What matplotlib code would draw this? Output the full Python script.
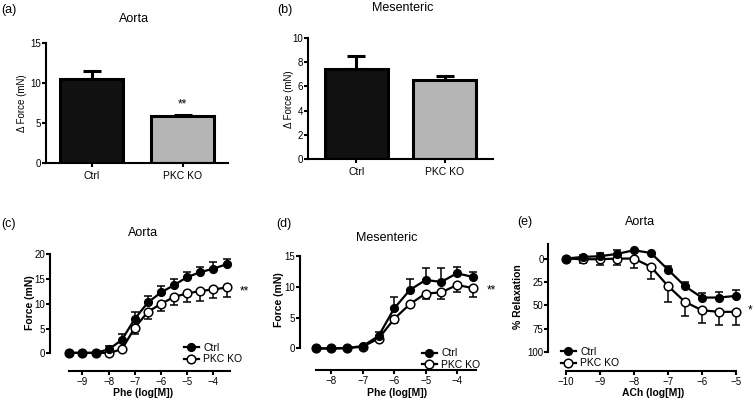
import matplotlib
matplotlib.use("Agg")
import matplotlib.pyplot as plt
import numpy as np

plt.rcParams['font.family'] = ['Liberation Sans', 'DejaVu Sans']

# ---------------- data ----------------
bar_groups = ["Ctrl", "PKC KO"]
aorta_bar = [10.45, 5.85]
aorta_bar_sem = [1.05, 0.2]
mes_bar = [7.4, 6.5]
mes_bar_sem = [1.08, 0.36]

# (c) Aorta Phe
phe_c = [-9.5, -9, -8.5, -8, -7.5, -7, -6.5, -6, -5.5, -5, -4.5, -4, -3.5]
c_ctrl = [0.1, 0.1, 0.1, 0.8, 2.7, 7.0, 10.3, 12.3, 13.8, 15.4, 16.4, 17.1, 18.0]
c_ctrl_sem = [0.0, 0.0, 0.0, 0.7, 1.3, 1.4, 1.2, 1.3, 1.2, 1.1, 1.1, 1.3, 1.1]
c_ko = [0.1, 0.1, 0.1, 0.1, 0.8, 5.2, 8.4, 10.0, 11.4, 12.1, 12.6, 12.9, 13.3]
c_ko_sem = [0.0, 0.0, 0.0, 0.0, 0.0, 1.2, 1.5, 1.4, 1.6, 1.8, 2.0, 1.8, 1.9]

# (d) Mesenteric Phe
phe_d = [-8.5, -8, -7.5, -7, -6.5, -6, -5.5, -5, -4.5, -4, -3.5]
d_ctrl = [0.0, 0.0, 0.05, 0.4, 2.0, 6.5, 9.5, 11.1, 10.8, 12.2, 11.6]
d_ctrl_sem = [0.0, 0.0, 0.0, 0.0, 0.7, 1.9, 1.7, 1.9, 2.2, 1.0, 0.8]
d_ko = [0.0, 0.0, 0.05, 0.3, 1.6, 4.8, 7.2, 8.9, 9.1, 10.3, 9.8]
d_ko_sem = [0.0, 0.0, 0.0, 0.0, 0.0, 0.7, 0.0, 0.8, 1.0, 1.2, 1.4]

# (e) Aorta ACh
ach_e = [-10, -9.5, -9, -8.5, -8, -7.5, -7, -6.5, -6, -5.5, -5]
e_ctrl = [0.0, -1.8, -2.5, -5.0, -8.9, -6.0, 11.8, 29.6, 41.8, 41.8, 40.0]
e_ctrl_sem = [0.0, 1.8, 3.9, 3.9, 0.0, 0.0, 3.6, 4.6, 5.0, 6.1, 6.8]
e_ko = [0.0, 0.7, 0.7, 0.0, 0.0, 8.9, 29.3, 46.4, 55.4, 57.1, 57.1]
e_ko_sem = [0.0, 3.9, 5.7, 6.4, 9.6, 12.5, 17.7, 15.4, 14.2, 14.3, 13.6]

W, H = 755, 403
fig = plt.figure(figsize=(W / 100, H / 100), dpi=100)


def add_ax(l, t, r, b):
    return fig.add_axes([l / W, 1 - b / H, (r - l) / W, (b - t) / H])


def ftext(x, y, s, **kw):
    kw.setdefault('ha', 'center')
    kw.setdefault('va', 'center')
    fig.text(x / W, 1 - y / H, s, **kw)


LW = 1.5
TICKFS = 7


def style_common(ax):
    for s in ['top', 'right']:
        ax.spines[s].set_visible(False)
    for s in ['left', 'bottom']:
        ax.spines[s].set_linewidth(LW)
    ax.tick_params(width=LW, length=2.6, labelsize=TICKFS, pad=0.8, color='black')
    ax.tick_params(axis='x', pad=2)


# ---------------- bar panels ----------------
def bar_panel(ax, vals, sems, ylim, yticks, width):
    x = np.arange(len(bar_groups))
    ax.bar(x, vals, width=width, color=['#111111', '#b5b5b5'], edgecolor='black',
           linewidth=2.2, zorder=2)
    ax.errorbar(x, vals, yerr=[np.zeros(len(vals)), sems], fmt='none', ecolor='black',
                elinewidth=2.2, capsize=6.5, capthick=2.2, zorder=1)
    ax.set_ylim(*ylim)
    ax.set_yticks(yticks)
    ax.set_xticks(x)
    ax.set_xticklabels(bar_groups)
    style_common(ax)
    ax.tick_params(axis='x', labelsize=7.5, pad=3)


axa = add_ax(46, 43, 228, 163)
bar_panel(axa, aorta_bar, aorta_bar_sem, (0, 15), [0, 5, 10, 15], 0.69)
axa.set_xlim(-0.5, 1.5)

axb = add_ax(308, 38, 493, 159)
bar_panel(axb, mes_bar, mes_bar_sem, (0, 10), [0, 2, 4, 6, 8, 10], 0.72)
axb.set_xlim(-0.55, 1.55)


# ---------------- curve panels ----------------
def curve_panel(ax, x, ctrl, ctrl_sem, ko, ko_sem, ctrl_up=True):
    n = len(x)
    z = np.zeros(n)
    if ctrl_up:
        cerr = [z, ctrl_sem]
        kerr = [ko_sem, z]
    else:
        cerr = [ctrl_sem, z]
        kerr = [z, ko_sem]
    ax.errorbar(x, ko, yerr=kerr, fmt='none', ecolor='black', elinewidth=1.1,
                capsize=3, capthick=1.1, zorder=2)
    ax.errorbar(x, ctrl, yerr=cerr, fmt='none', ecolor='black', elinewidth=1.1,
                capsize=3, capthick=1.1, zorder=2)
    ax.plot(x, ko, '-o', color='black', lw=1.6, ms=6.2, mfc='white', mec='black',
            mew=1.1, zorder=3, label='PKC KO')
    ax.plot(x, ctrl, '-o', color='black', lw=1.6, ms=5.6, mfc='black', mec='black',
            zorder=4, label='Ctrl')
    style_common(ax)


def add_legend(ax, xpx, ypx):
    h, l = ax.get_legend_handles_labels()
    order = [l.index('Ctrl'), l.index('PKC KO')]
    ax.legend([h[i] for i in order], [l[i] for i in order], loc='upper left',
              bbox_to_anchor=(xpx / W, 1 - ypx / H), bbox_transform=fig.transFigure,
              frameon=False, fontsize=7.5, handlelength=1.4, handletextpad=0.45,
              labelspacing=0.12, borderpad=0, borderaxespad=0)


# (c)
axc = add_ax(50, 254.3, 231.8, 370.7)
curve_panel(axc, phe_c, c_ctrl, c_ctrl_sem, c_ko, c_ko_sem)
axc.set_xlim(-10.24, -3.3)
axc.set_ylim(-3.5, 20)
axc.set_yticks([0, 5, 10, 15, 20])
axc.set_xticks([-9, -8, -7, -6, -5, -4])
axc.spines['left'].set_bounds(0, 20)
axc.spines['bottom'].set_bounds(-9.5, -3.38)
add_legend(axc, 184, 343)

# (d)
axd = add_ax(300, 256, 479, 370)
curve_panel(axd, phe_d, d_ctrl, d_ctrl_sem, d_ko, d_ko_sem)
axd.set_xlim(-9.0, -3.3)
axd.set_ylim(-3.5, 15)
axd.set_yticks([0, 5, 10, 15])
axd.set_xticks([-8, -7, -6, -5, -4])
axd.spines['left'].set_bounds(0, 15)
axd.spines['bottom'].set_bounds(-8.5, -3.4)
add_legend(axd, 422, 348.5)

# (e)
axe = add_ax(548.3, 244.3, 741, 370.5)
curve_panel(axe, ach_e, e_ctrl, e_ctrl_sem, e_ko, e_ko_sem, ctrl_up=False)
axe.set_xlim(-10.52, -4.85)
axe.set_ylim(120, -15.3)
axe.set_yticks([0, 25, 50, 75, 100])
axe.set_xticks([-10, -9, -8, -7, -6, -5])
axe.spines['left'].set_bounds(-15.3, 100)
axe.spines['bottom'].set_bounds(-10, -5)
add_legend(axe, 561, 347)

# ---------------- texts ----------------
TFS = 9
ftext(9, 10, "(a)", fontsize=9)
ftext(285, 10, "(b)", fontsize=9)
ftext(9, 224, "(c)", fontsize=9)
ftext(284, 224, "(d)", fontsize=9)
ftext(525, 222, "(e)", fontsize=9)

ftext(134, 19, "Aorta", fontsize=TFS)
ftext(403, 8, "Mesenteric", fontsize=TFS)
ftext(143, 233, "Aorta", fontsize=TFS)
ftext(387, 238, "Mesenteric", fontsize=TFS)
ftext(640, 222, "Aorta", fontsize=TFS)

ftext(22, 103, "\u0394 Force (mN)", fontsize=7, rotation=90)
ftext(289, 99, "\u0394 Force (mN)", fontsize=7, rotation=90)
ftext(30, 303, "Force (mN)", fontsize=7.5, rotation=90, weight='bold')
ftext(279, 300, "Force (mN)", fontsize=7.5, rotation=90, weight='bold')
ftext(518, 297, "% Relaxation", fontsize=7.5, rotation=90, weight='bold')

ftext(143, 393, "Phe (log[M])", fontsize=7.5, weight='bold')
ftext(397, 393, "Phe (log[M])", fontsize=7.5, weight='bold')
ftext(653, 393, "ACh (log[M])", fontsize=7.5, weight='bold')

ftext(182.5, 104, "**", fontsize=8.5)
ftext(244, 291, "**", fontsize=8.5)
ftext(491, 290, "**", fontsize=8.5)
ftext(750, 310, "*", fontsize=8.5)

fig.savefig("out.png", dpi=100)
